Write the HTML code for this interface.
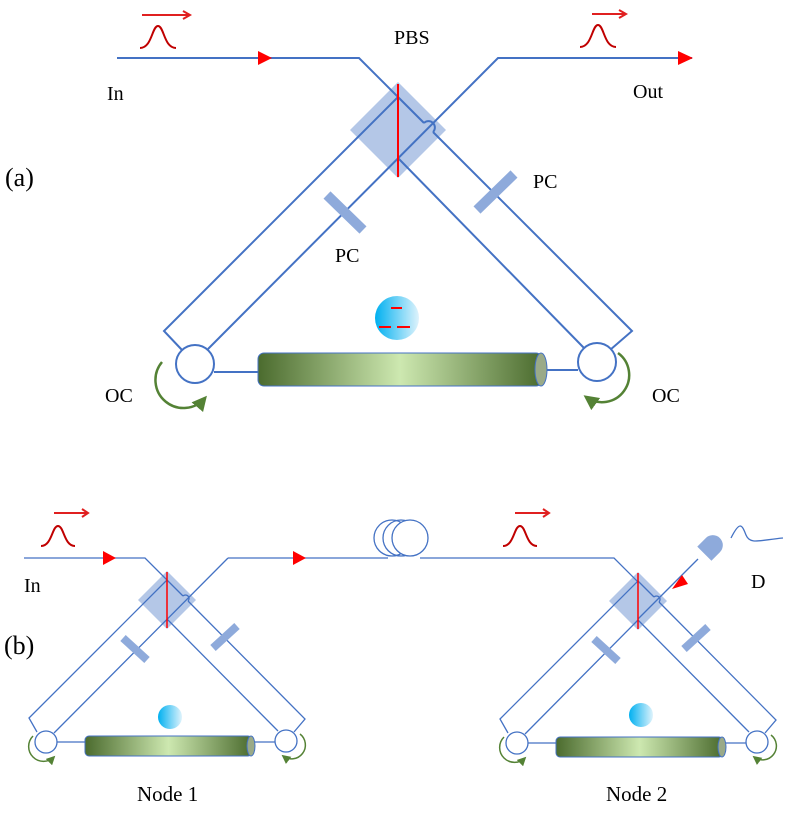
<!DOCTYPE html>
<html><head><meta charset="utf-8"><style>
html,body{margin:0;padding:0;background:#fff;}
svg{display:block;}
text{font-family:"Liberation Serif",serif;fill:#000;}
</style></head><body>
<svg width="788" height="814" viewBox="0 0 788 814" xmlns="http://www.w3.org/2000/svg">
<defs>
<linearGradient id="cyl" x1="0" x2="1" y1="0" y2="0">
<stop offset="0" stop-color="#4b6b2e"/><stop offset="0.5" stop-color="#cde8b0"/><stop offset="1" stop-color="#4b6b2e"/>
</linearGradient>
<linearGradient id="ion" x1="0" x2="1" y1="0" y2="0">
<stop offset="0" stop-color="#00b0f0"/><stop offset="1" stop-color="#dff3fc"/>
</linearGradient>
<marker id="ah" viewBox="0 0 10 10" refX="8" refY="5" markerWidth="6" markerHeight="6" orient="auto"><path d="M0,0 L10,5 L0,10 z" fill="#548235"/></marker>
</defs>

<!-- ===== (a) ===== -->
<g fill="none" stroke="#4472c4" stroke-width="2">
<polyline points="117,58 359,58 398,97 424,123"/>
<path d="M424,123 a5,5 0 0 1 9,9"/>
<polyline points="433,132 632,331 610,350"/>
<polyline points="398,97 164,331 182,350"/>
<polyline points="692,58 498,58 208,349"/>
<line x1="398" y1="158" x2="584" y2="348"/>
<line x1="214" y1="372" x2="258" y2="372"/>
<line x1="541" y1="370" x2="578" y2="370"/>
</g>
<polygon points="398,82 446,130 398,178 350,130" fill="#4472c4" fill-opacity="0.4"/>
<line x1="398" y1="84" x2="398" y2="177" stroke="#ff0000" stroke-width="2"/>
<polygon points="258,265 272,258 258,251" transform="translate(0,-200)" fill="#ff0000"/>
<polygon points="678,51 693,58 678,65" fill="#ff0000"/>
<!-- PC bars -->
<line x1="327" y1="195" x2="363" y2="230" stroke="#8eaadb" stroke-width="10"/>
<line x1="477" y1="210" x2="514" y2="174" stroke="#8eaadb" stroke-width="10"/>
<!-- circles -->
<circle cx="195" cy="364" r="19" fill="#fff" stroke="#4472c4" stroke-width="2"/>
<circle cx="597" cy="362" r="19" fill="#fff" stroke="#4472c4" stroke-width="2"/>
<!-- cylinder -->
<rect x="258" y="353" width="284" height="33" rx="6" fill="url(#cyl)" stroke="#4472c4" stroke-width="1"/>
<ellipse cx="541" cy="369.5" rx="6" ry="16.5" fill="#9aaa88" stroke="#4472c4" stroke-width="1"/>
<!-- ion -->
<circle cx="397" cy="318" r="22" fill="url(#ion)"/>
<g stroke="#ff0000" stroke-width="2"><line x1="391" y1="308" x2="402" y2="308"/><line x1="379" y1="327" x2="391" y2="327"/><line x1="397" y1="327" x2="410" y2="327"/></g>
<!-- OC arrows -->
<path d="M162,362 A25,25 0 0 0 205,398" fill="none" stroke="#548235" stroke-width="2.5" marker-end="url(#ah)"/>
<path d="M618,353 A22,22 0 0 1 586,397" fill="none" stroke="#548235" stroke-width="2.5" marker-end="url(#ah)"/>
<!-- pulses -->
<g fill="none" stroke="#c00000" stroke-width="2">
<path d="M140,48 C152,48 152,26 158,26 C164,26 164,48 176,48"/>
<path d="M580,47 C592,47 592,25 598,25 C604,25 604,47 616,47"/>
</g>
<g stroke="#e02020" stroke-width="2" fill="none">
<line x1="142" y1="15" x2="190" y2="15"/><polyline points="183,11 190,15 183,19"/>
<line x1="592" y1="14" x2="626" y2="14"/><polyline points="619,10 626,14 619,18"/>
</g>
<text x="394" y="44" font-size="20">PBS</text>
<text x="107" y="100" font-size="20">In</text>
<text x="633" y="98" font-size="20">Out</text>
<text x="5" y="186" font-size="26">(a)</text>
<text x="335" y="262" font-size="20">PC</text>
<text x="533" y="188" font-size="20">PC</text>
<text x="105" y="402" font-size="20">OC</text>
<text x="652" y="402" font-size="20">OC</text>

<!-- ===== (b) ===== -->
<g fill="none" stroke="#4472c4" stroke-width="1.3">
<polyline points="24,558 145,558 167,580"/>
<polyline points="228,558 388,558"/>
<polyline points="420,558 614,558 638,582"/>
<line x1="638" y1="619" x2="698" y2="559"/>
<path d="M731,538 C740,520 742,525 746,535 C750,545 760,540 783,538"/>
<circle cx="392" cy="538" r="18"/><circle cx="401" cy="538" r="18"/><circle cx="410" cy="538" r="18" fill="#fff"/>
</g>
<polygon points="103,551 116,558 103,565" fill="#ff0000"/>
<polygon points="293,551 306,558 293,565" fill="#ff0000"/>
<polygon points="672,589 682,575 688,584" fill="#ff0000"/>
<!-- detector -->
<g transform="translate(710,548) rotate(-45)">
<path d="M-8,-10 L4,-10 A10,10 0 0 1 4,10 L-8,10 Z" fill="#8eaadb"/>
</g>

<g id="node">
<g fill="none" stroke="#4472c4" stroke-width="1.3">
<polyline points="167,580 183,596"/>
<path d="M183,596 a3,3 0 0 1 5,5"/>
<polyline points="188,601 305,719 294,732"/>
<polyline points="167,580 29,718 37,732"/>
<line x1="228" y1="558" x2="54" y2="733"/>
<line x1="167" y1="619" x2="278" y2="731"/>
<line x1="57" y1="742" x2="85" y2="742"/>
<line x1="251" y1="742" x2="275" y2="742"/>
</g>
<polygon points="167,571 196,600 167,629 138,600" fill="#4472c4" fill-opacity="0.4"/>
<line x1="167" y1="572" x2="167" y2="628" stroke="#ff0000" stroke-width="1.5"/>
<line x1="123" y1="638" x2="147" y2="660" stroke="#8eaadb" stroke-width="8"/>
<line x1="213" y1="648" x2="237" y2="626" stroke="#8eaadb" stroke-width="8"/>
<circle cx="46" cy="742" r="11" fill="#fff" stroke="#4472c4" stroke-width="1.3"/>
<circle cx="286" cy="741" r="11" fill="#fff" stroke="#4472c4" stroke-width="1.3"/>
<rect x="85" y="736" width="167" height="20" rx="4" fill="url(#cyl)" stroke="#4472c4" stroke-width="1"/>
<ellipse cx="251" cy="746" rx="4" ry="10" fill="#9aaa88" stroke="#4472c4" stroke-width="1"/>
<circle cx="170" cy="717" r="12" fill="url(#ion)"/>
<path d="M33,736 A14,14 0 0 0 54,757" fill="none" stroke="#548235" stroke-width="1.5" marker-end="url(#ah)"/>
<path d="M300,734 A13,13 0 0 1 283,756" fill="none" stroke="#548235" stroke-width="1.5" marker-end="url(#ah)"/>
</g>
<g transform="translate(471,1)">
<g fill="none" stroke="#4472c4" stroke-width="1.3">
<polyline points="167,580 183,596"/>
<path d="M183,596 a3,3 0 0 1 5,5"/>
<polyline points="188,601 305,719 294,732"/>
<polyline points="167,580 29,718 37,732"/>
<line x1="167" y1="619" x2="54" y2="733"/>
<line x1="167" y1="619" x2="278" y2="731"/>
<line x1="57" y1="742" x2="85" y2="742"/>
<line x1="251" y1="742" x2="275" y2="742"/>
</g>
<polygon points="167,571 196,600 167,629 138,600" fill="#4472c4" fill-opacity="0.4"/>
<line x1="167" y1="572" x2="167" y2="628" stroke="#ff0000" stroke-width="1.5"/>
<line x1="123" y1="638" x2="147" y2="660" stroke="#8eaadb" stroke-width="8"/>
<line x1="213" y1="648" x2="237" y2="626" stroke="#8eaadb" stroke-width="8"/>
<circle cx="46" cy="742" r="11" fill="#fff" stroke="#4472c4" stroke-width="1.3"/>
<circle cx="286" cy="741" r="11" fill="#fff" stroke="#4472c4" stroke-width="1.3"/>
<rect x="85" y="736" width="167" height="20" rx="4" fill="url(#cyl)" stroke="#4472c4" stroke-width="1"/>
<ellipse cx="251" cy="746" rx="4" ry="10" fill="#9aaa88" stroke="#4472c4" stroke-width="1"/>
<circle cx="170" cy="714" r="12" fill="url(#ion)"/>
<path d="M33,736 A14,14 0 0 0 54,757" fill="none" stroke="#548235" stroke-width="1.5" marker-end="url(#ah)"/>
<path d="M300,734 A13,13 0 0 1 283,756" fill="none" stroke="#548235" stroke-width="1.5" marker-end="url(#ah)"/>
</g>

<g fill="none" stroke="#c00000" stroke-width="2">
<path d="M41,546 C52,546 52,526 58,526 C64,526 64,546 75,546"/>
<path d="M503,546 C514,546 514,526 520,526 C526,526 526,546 537,546"/>
</g>
<g stroke="#e02020" stroke-width="2" fill="none">
<line x1="54" y1="513" x2="88" y2="513"/><polyline points="82,509 88,513 82,517"/>
<line x1="515" y1="513" x2="549" y2="513"/><polyline points="543,509 549,513 543,517"/>
</g>
<text x="24" y="592" font-size="20">In</text>
<text x="4" y="654" font-size="26">(b)</text>
<text x="137" y="801" font-size="21">Node 1</text>
<text x="606" y="801" font-size="21">Node 2</text>
<text x="751" y="588" font-size="20">D</text>
</svg>
</body></html>
